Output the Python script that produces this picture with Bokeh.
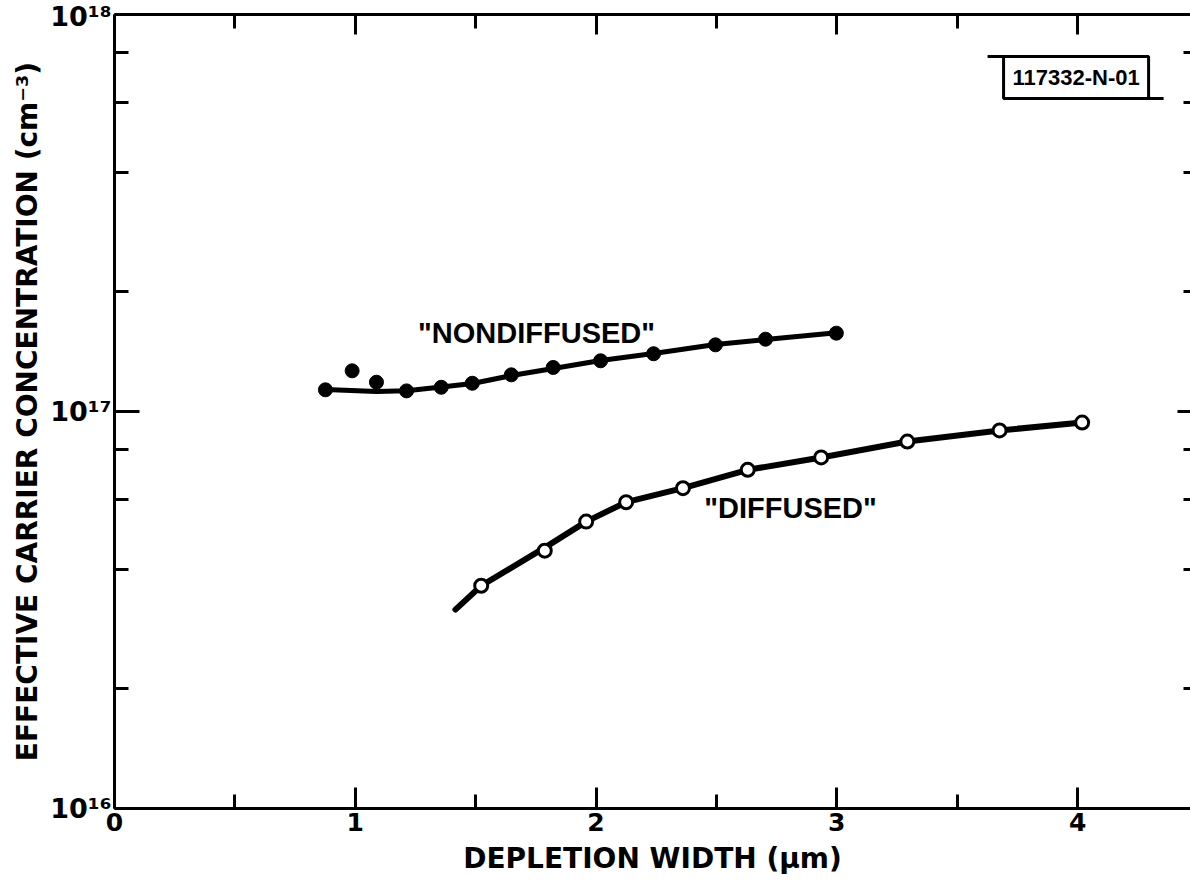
from bokeh.plotting import figure
from bokeh.models import FixedTicker, LinearAxis, LogAxis, Label, Range1d, CustomJSTickFormatter
from bokeh.embed import file_html
from bokeh.resources import INLINE

# ---- data ----
nd_x = [0.876, 0.987, 1.088, 1.213, 1.357, 1.486, 1.648, 1.822, 2.019, 2.239, 2.496, 2.704, 2.998]
nd_y = [1.134e17, 1.266e17, 1.185e17, 1.127e17, 1.151e17, 1.178e17, 1.237e17, 1.291e17,
        1.342e17, 1.398e17, 1.472e17, 1.521e17, 1.575e17]
nd_fit_x = [0.876, 1.088, 1.213, 1.358, 1.487, 1.649, 1.823, 2.019, 2.239, 2.496, 2.704, 2.999]
nd_fit_y = [1.136e17, 1.123e17, 1.128e17, 1.153e17, 1.176e17, 1.232e17, 1.283e17, 1.344e17,
            1.400e17, 1.475e17, 1.518e17, 1.578e17]

d_x = [1.523, 1.787, 1.959, 2.125, 2.361, 2.630, 2.935, 3.293, 3.676, 4.019]
d_y = [3.64e16, 4.46e16, 5.28e16, 5.91e16, 6.41e16, 7.13e16, 7.66e16, 8.40e16, 8.96e16, 9.38e16]
d_fit_x = [1.416, 1.523, 1.787, 1.959, 2.125, 2.361, 2.630, 2.935, 3.293, 3.676, 4.019]
d_fit_y = [3.17e16, 3.64e16, 4.54e16, 5.28e16, 5.91e16, 6.41e16, 7.13e16, 7.66e16, 8.40e16, 8.96e16, 9.38e16]

x_ticks = [0, 1, 2, 3, 4]
x_minor = [0.5, 1.5, 2.5, 3.5]
y_ticks = [1e16, 1e17, 1e18]
y_minor = [2e16, 4e16, 6e16, 8e16, 2e17, 4e17, 6e17, 8e17]
y_tick_labels = {1e16: "10\u00b9\u2076", 1e17: "10\u00b9\u2077", 1e18: "10\u00b9\u2078"}

x_label = "DEPLETION WIDTH (\u03bcm)"
y_label = "EFFECTIVE CARRIER CONCENTRATION (cm\u207b\u00b3)"
code_text = "117332-N-01"

# ---- layout helpers (pixel -> data, for annotation placement only) ----
X_END = 4.469
def dx(px):
    return (px - 114) / 240.75
def dy(py):
    return 10 ** (17 + (410 - py) / 397)

AX_FONT = "DejaVu Sans"
ANN_FONT = "Liberation Sans"

p = figure(width=1190, height=882, x_range=Range1d(0, X_END), y_range=Range1d(1e16, 1e18),
           y_axis_type="log", output_backend="svg", toolbar_location=None,
           min_border_left=114, min_border_right=0, min_border_top=14, min_border_bottom=74)
p.grid.visible = False
p.outline_line_color = None
p.background_fill_color = "white"
p.border_fill_color = "white"

xa = p.xaxis[0]
xa.ticker = FixedTicker(ticks=x_ticks, minor_ticks=x_minor)
xa.axis_line_width = 3
xa.major_tick_in = 21
xa.major_tick_out = 0
xa.minor_tick_in = 14
xa.minor_tick_out = 0
xa.major_tick_line_width = 3
xa.minor_tick_line_width = 3
xa.major_label_text_font = AX_FONT
xa.major_label_text_font_style = "bold"
xa.major_label_text_font_size = "25px"
xa.major_label_text_color = "black"
xa.major_label_standoff = 4
xa.axis_label = x_label
xa.axis_label_text_font = AX_FONT
xa.axis_label_text_font_style = "bold"
xa.axis_label_text_font_size = "28px"
xa.axis_label_text_color = "black"
xa.axis_label_standoff = 8

ya = p.yaxis[0]
ya.ticker = FixedTicker(ticks=y_ticks, minor_ticks=y_minor)
ya.major_label_overrides = y_tick_labels
ya.axis_line_width = 3
ya.major_tick_in = 25
ya.major_tick_out = 0
ya.minor_tick_in = 14
ya.minor_tick_out = 0
ya.major_tick_line_width = 3
ya.minor_tick_line_width = 3
ya.major_label_text_font = AX_FONT
ya.major_label_text_font_style = "bold"
ya.major_label_text_font_size = "27px"
ya.major_label_text_color = "black"
ya.major_label_standoff = 3
ya.axis_label = y_label
ya.axis_label_text_font = AX_FONT
ya.axis_label_text_font_style = "bold"
ya.axis_label_text_font_size = "28px"
ya.axis_label_text_color = "black"
ya.axis_label_standoff = 3

blank = CustomJSTickFormatter(code="return ''")

top = LinearAxis(ticker=FixedTicker(ticks=x_ticks, minor_ticks=x_minor), formatter=blank)
top.axis_line_width = 3
top.major_tick_in = 20
top.major_tick_out = 0
top.minor_tick_in = 14
top.minor_tick_out = 0
top.major_tick_line_width = 3
top.minor_tick_line_width = 3
top.major_label_text_font_size = "1px"
top.major_label_standoff = 0
p.add_layout(top, "above")

right = LogAxis(ticker=FixedTicker(ticks=y_ticks, minor_ticks=y_minor), formatter=blank)
right.axis_line_color = None
right.major_tick_in = 13
right.major_tick_out = 0
right.minor_tick_in = 7
right.minor_tick_out = 0
right.major_tick_line_width = 3
right.minor_tick_line_width = 3
right.major_label_text_font_size = "1px"
right.major_label_standoff = 0
p.add_layout(right, "right")

# curves
p.line(nd_fit_x, nd_fit_y, line_color="black", line_width=5, line_join="round", line_cap="round")
p.line(d_fit_x, d_fit_y, line_color="black", line_width=6, line_join="round", line_cap="round")
p.scatter(nd_x, nd_y, size=14, marker="circle", fill_color="black", line_color="black")
p.scatter(d_x, d_y, size=13, marker="circle", fill_color="white", line_color="black", line_width=3)

# curve labels
p.add_layout(Label(x=dx(536), y=dy(331), text='"NONDIFFUSED"', text_font=ANN_FONT,
                   text_font_style="bold", text_font_size="29px", text_align="center",
                   text_baseline="middle", text_color="black"))
p.add_layout(Label(x=dx(790), y=dy(506), text='"DIFFUSED"', text_font=ANN_FONT,
                   text_font_style="bold", text_font_size="29px", text_align="center",
                   text_baseline="middle", text_color="black"))

# identification box
p.multi_line(xs=[[dx(987), dx(1148), dx(1148)], [dx(1003), dx(1003), dx(1163)]],
             ys=[[dy(55), dy(55), dy(97)], [dy(55), dy(97), dy(97)]],
             line_color="black", line_width=3)
p.add_layout(Label(x=dx(1075.5), y=dy(76), text=code_text, text_font=ANN_FONT,
                   text_font_style="bold", text_font_size="22px", text_align="center",
                   text_baseline="middle", text_color="black"))

open("out.html", "w").write(file_html(p, INLINE))
